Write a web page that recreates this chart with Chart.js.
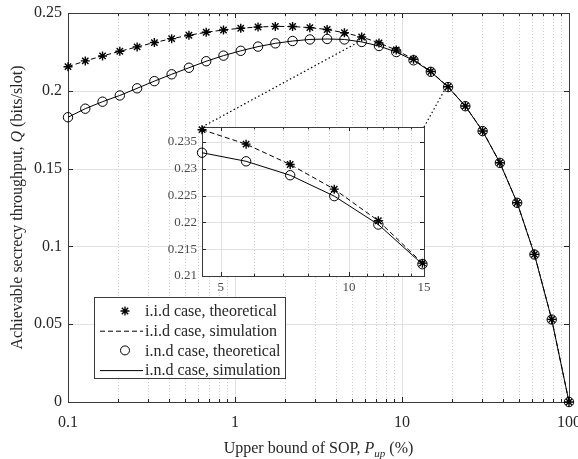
<!DOCTYPE html>
<html>
<head>
<meta charset="utf-8">
<script src="https://cdn.jsdelivr.net/npm/chart.js@4.4.1/dist/chart.umd.min.js"></script>
<style>
  body { margin: 0; background: #fff; }
  #wrap { position: relative; width: 578px; height: 459px; }
  #mainChart { position: absolute; left: 0; top: 0; }
  #insetChart { position: absolute; left: 150px; top: 115px; }
</style>
</head>
<body>
<div id="wrap">
  <canvas id="mainChart" width="578" height="459"></canvas>
  <canvas id="insetChart" width="285" height="185"></canvas>
</div>
<script>
// Upper bound of SOP (%), log spaced
const sopPct = [0.1, 0.1269, 0.1610, 0.2043, 0.2593, 0.3290, 0.4175, 0.5298, 0.6723, 0.8531,
  1.0826, 1.3738, 1.7433, 2.2122, 2.8072, 3.5622, 4.5204, 5.7362, 7.2790, 9.2367,
  11.721, 14.874, 18.874, 23.950, 30.392, 38.566, 48.939, 62.102, 78.805, 100];

// secrecy throughput (bits/slot)
const iidTheory = [0.2155, 0.2192, 0.2224, 0.2254, 0.2282, 0.2310, 0.2335, 0.2357, 0.2376, 0.2391,
  0.2402, 0.2410, 0.2414, 0.2413, 0.2406, 0.2394, 0.2373, 0.2346, 0.2308, 0.2262,
  0.2203, 0.2124, 0.2026, 0.1902, 0.1742, 0.1538, 0.1281, 0.0949, 0.0531, 0];
const iidSim = iidTheory;
const indTheory = [0.1830, 0.1885, 0.1930, 0.1970, 0.2016, 0.2062, 0.2106, 0.2148, 0.2190, 0.2226,
  0.2257, 0.2284, 0.2305, 0.2320, 0.2330, 0.2333, 0.2330, 0.2314, 0.2288, 0.2249,
  0.2196, 0.2122, 0.2024, 0.1901, 0.1741, 0.1537, 0.1280, 0.0948, 0.0530, 0];
const indSim = indTheory;

// axis ticks
const xTicks = [0.1, 1, 10, 100];
const xMinor = [0.2, 0.3, 0.4, 0.5, 0.6, 0.7, 0.8, 0.9, 2, 3, 4, 5, 6, 7, 8, 9, 20, 30, 40, 50, 60, 70, 80, 90];
const yTicks = [0, 0.05, 0.1, 0.15, 0.2, 0.25];

// inset (zoomed region)
const insetRange = [16, 22];   // slice of the points shown in the inset
const insetXTicks = [5, 10, 15];
const insetXMinor = [6, 7, 8, 9, 11, 12, 13, 14];
const insetYTicks = [0.21, 0.215, 0.22, 0.225, 0.23, 0.235];
const insetLimits = { xMin: 4.5204, xMax: 15, yMin: 0.21, yMax: 0.2378 };
// where the dotted zoom lines meet the main curve
const zoomLinkEnds = [[5.40, 0.2309], [18.1, 0.2010]];

const FONT = '"Liberation Serif", "Times New Roman", serif';
const AXIS = '#262626';
Chart.defaults.font.family = FONT;
Chart.defaults.color = AXIS;

// matlab style box, grid and inward ticks
const matlabAxes = {
    id: 'matlabAxes',
    beforeDatasetsDraw(chart, args, opts) {
        const { ctx, chartArea: a, scales: { x, y } } = chart;
        const line = (x1, y1, x2, y2) => { ctx.beginPath(); ctx.moveTo(x1, y1); ctx.lineTo(x2, y2); ctx.stroke(); };
        const px = v => Math.round(x.getPixelForValue(v)) + 0.5;
        const py = v => Math.round(y.getPixelForValue(v)) + 0.5;
        ctx.save();
        ctx.fillStyle = '#fff';
        ctx.fillRect(a.left, a.top, a.right - a.left, a.bottom - a.top);
        ctx.lineWidth = 1;

        // minor grid
        ctx.strokeStyle = '#cfcfcf';
        ctx.setLineDash([1, 2]);
        opts.xMinor.forEach(v => line(px(v), a.top, px(v), a.bottom));

        // major grid
        ctx.setLineDash([]);
        ctx.strokeStyle = '#e2e2e2';
        opts.xMajor.forEach(v => line(px(v), a.top, px(v), a.bottom));
        opts.yMajor.forEach(v => line(a.left, py(v), a.right, py(v)));

        // tick marks
        ctx.strokeStyle = AXIS;
        const big = opts.tickLen, small = opts.tickLen * 0.6;
        opts.xMajor.forEach(v => {
            line(px(v), a.bottom, px(v), a.bottom - big);
            line(px(v), a.top, px(v), a.top + big);
        });
        opts.xMinor.forEach(v => {
            line(px(v), a.bottom, px(v), a.bottom - small);
            line(px(v), a.top, px(v), a.top + small);
        });
        opts.yMajor.forEach(v => {
            line(a.left, py(v), a.left + big, py(v));
            line(a.right, py(v), a.right - big, py(v));
        });

        // box
        ctx.strokeStyle = '#3a3a3a';
        ctx.strokeRect(Math.round(a.left) + 0.5, Math.round(a.top) + 0.5,
            Math.round(a.right - a.left), Math.round(a.bottom - a.top));
        ctx.restore();
    }
};

// draws a string made of runs with different font styles
function drawRuns(ctx, runs, cx, baseY) {
    let total = 0;
    runs.forEach(r => { ctx.font = r.font; r.w = ctx.measureText(r.t).width; total += r.w; });
    let xx = cx - total / 2;
    ctx.textAlign = 'left';
    ctx.textBaseline = 'alphabetic';
    runs.forEach(r => {
        ctx.font = r.font;
        ctx.fillText(r.t, xx, baseY + (r.dy || 0));
        xx += r.w;
    });
}

let insetChart = null;

const mainDecor = {
    id: 'mainDecor',
    afterDraw(chart) {
        const { ctx, chartArea: a, scales: { x, y } } = chart;
        ctx.save();
        ctx.fillStyle = AXIS;

        // axis titles
        drawRuns(ctx, [
            { t: 'Upper bound of SOP, ', font: '16px ' + FONT },
            { t: 'P', font: 'italic 16px ' + FONT },
            { t: 'up', font: 'italic 11px ' + FONT, dy: 4 },
            { t: ' (%)', font: '16px ' + FONT }
        ], (a.left + a.right) / 2, 453);

        ctx.save();
        ctx.translate(22, (a.top + a.bottom) / 2);
        ctx.rotate(-Math.PI / 2);
        drawRuns(ctx, [
            { t: 'Achievable secrecy throughput, ', font: '16px ' + FONT },
            { t: 'Q', font: 'italic 16px ' + FONT },
            { t: ' (bits/slot)', font: '16px ' + FONT }
        ], 0, 0);
        ctx.restore();

        // legend
        const lx = a.left + 26, ly = a.top + 284, lw = 191, lh = 81;
        ctx.fillStyle = '#fff';
        ctx.fillRect(lx, ly, lw, lh);
        ctx.strokeStyle = '#3a3a3a';
        ctx.lineWidth = 1;
        ctx.strokeRect(lx + 0.5, ly + 0.5, lw, lh);
        const order = [0, 1, 2, 3];
        order.forEach((di, i) => {
            const ds = chart.data.datasets[di];
            const ry = ly + 14 + i * 19.7;
            const sx = lx + 31;
            ctx.strokeStyle = '#000';
            ctx.lineWidth = 1;
            if (ds.showLine === false) {
                const r = 4.5;
                ctx.lineWidth = ds.pointBorderWidth;
                ctx.beginPath();
                if (ds.pointStyle === 'circle') {
                    ctx.arc(sx, ry, r, 0, Math.PI * 2);
                } else {
                    const d = r * Math.SQRT1_2;
                    ctx.moveTo(sx - r, ry); ctx.lineTo(sx + r, ry);
                    ctx.moveTo(sx, ry - r); ctx.lineTo(sx, ry + r);
                    ctx.moveTo(sx - d, ry - d); ctx.lineTo(sx + d, ry + d);
                    ctx.moveTo(sx - d, ry + d); ctx.lineTo(sx + d, ry - d);
                }
                ctx.stroke();
            } else {
                ctx.setLineDash(ds.borderDash || []);
                ctx.beginPath();
                ctx.moveTo(lx + 6, ry + 0.5);
                ctx.lineTo(lx + 49, ry + 0.5);
                ctx.stroke();
                ctx.setLineDash([]);
            }
            ctx.fillStyle = AXIS;
            ctx.font = '16px ' + FONT;
            ctx.textAlign = 'left';
            ctx.textBaseline = 'middle';
            ctx.fillText(ds.label, lx + 51, ry + 1);
        });

        // dotted lines from inset corners to the curve
        if (insetChart) {
            const ia = insetChart.chartArea;
            const ox = insetChart.canvas.offsetLeft, oy = insetChart.canvas.offsetTop;
            const corners = [[ox + ia.left, oy + ia.top], [ox + ia.right, oy + ia.top]];
            ctx.strokeStyle = '#000';
            ctx.lineWidth = 1.2;
            ctx.setLineDash([1.5, 2.5]);
            corners.forEach((c, i) => {
                ctx.beginPath();
                ctx.moveTo(c[0], c[1]);
                ctx.lineTo(x.getPixelForValue(zoomLinkEnds[i][0]), y.getPixelForValue(zoomLinkEnds[i][1]));
                ctx.stroke();
            });
        }
        ctx.restore();
    }
};

function makeDatasets(xs, iidT, iidS, indT, indS) {
    const pts = (arr) => arr.map((v, i) => ({ x: xs[i], y: v }));
    return [
        { label: 'i.i.d case, theoretical', data: pts(iidT), showLine: false, pointStyle: 'star',
          pointRadius: 4.5, pointBorderWidth: 1.4, borderColor: '#000', pointBorderColor: '#000', backgroundColor: 'transparent', order: 1, clip: false },
        { label: 'i.i.d case, simulation', data: pts(iidS), borderColor: '#000', borderWidth: 1, borderDash: [5, 3],
          pointRadius: 0, tension: 0, order: 2, clip: false },
        { label: 'i.n.d case, theoretical', data: pts(indT), showLine: false, pointStyle: 'circle',
          pointRadius: 4.7, pointBorderWidth: 1, borderColor: '#000', pointBorderColor: '#000', pointBackgroundColor: 'transparent', backgroundColor: 'transparent', order: 1, clip: false },
        { label: 'i.n.d case, simulation', data: pts(indS), borderColor: '#000', borderWidth: 1,
          pointRadius: 0, tension: 0, order: 2, clip: false }
    ];
}

const mainChart = new Chart(document.getElementById('mainChart'), {
    type: 'line',
    data: { datasets: makeDatasets(sopPct, iidTheory, iidSim, indTheory, indSim) },
    plugins: [matlabAxes, mainDecor],
    options: {
        responsive: false,
        animation: false,
        events: [],
        layout: { padding: { top: 13, right: 9, left: 0, bottom: 0 } },
        plugins: {
            legend: { display: false },
            tooltip: { enabled: false },
            matlabAxes: { xMajor: xTicks, xMinor: xMinor, yMajor: yTicks, tickLen: 5 }
        },
        scales: {
            x: {
                type: 'logarithmic', min: 0.1, max: 100,
                grid: { display: false, drawTicks: false },
                border: { display: false },
                afterBuildTicks: s => { s.ticks = xTicks.map(v => ({ value: v })); },
                afterFit: s => { s.height = 57; s.paddingLeft = 0; s.paddingRight = 0; },
                ticks: { autoSkip: false, maxRotation: 0, padding: 11, font: { size: 16 }, color: AXIS,
                    callback: v => String(v) }
            },
            y: {
                type: 'linear', min: 0, max: 0.25,
                grid: { display: false, drawTicks: false },
                border: { display: false },
                afterBuildTicks: s => { s.ticks = yTicks.map(v => ({ value: v })); },
                afterFit: s => { s.width = 68; s.paddingTop = 0; s.paddingBottom = 0; },
                ticks: { padding: 6, font: { size: 16 }, color: AXIS,
                    callback: v => String(+v.toFixed(2)) }
            }
        }
    }
});

const insetX = sopPct.slice(insetRange[0], insetRange[1]);
insetChart = new Chart(document.getElementById('insetChart'), {
    type: 'line',
    data: { datasets: makeDatasets(insetX,
        iidTheory.slice(insetRange[0], insetRange[1]), iidSim.slice(insetRange[0], insetRange[1]),
        indTheory.slice(insetRange[0], insetRange[1]), indSim.slice(insetRange[0], insetRange[1])) },
    plugins: [matlabAxes],
    options: {
        responsive: false,
        animation: false,
        events: [],
        layout: { padding: { top: 12, right: 11, left: 0, bottom: 0 } },
        plugins: {
            legend: { display: false },
            tooltip: { enabled: false },
            matlabAxes: { xMajor: insetXTicks, xMinor: insetXMinor, yMajor: insetYTicks, tickLen: 4 }
        },
        scales: {
            x: {
                type: 'logarithmic', min: insetLimits.xMin, max: insetLimits.xMax,
                grid: { display: false, drawTicks: false },
                border: { display: false },
                afterBuildTicks: s => { s.ticks = insetXTicks.map(v => ({ value: v })); },
                afterFit: s => { s.height = 24; s.paddingLeft = 0; s.paddingRight = 0; },
                ticks: { autoSkip: false, maxRotation: 0, padding: 4, font: { size: 13 }, color: '#4a4a4a',
                    callback: v => String(v) }
            },
            y: {
                type: 'linear', min: insetLimits.yMin, max: insetLimits.yMax,
                grid: { display: false, drawTicks: false },
                border: { display: false },
                afterBuildTicks: s => { s.ticks = insetYTicks.map(v => ({ value: v })); },
                afterFit: s => { s.width = 52; s.paddingTop = 0; s.paddingBottom = 0; },
                ticks: { padding: 5, font: { size: 13 }, color: '#4a4a4a',
                    callback: v => String(+v.toFixed(3)) }
            }
        }
    }
});

// redraw so the zoom lines can find the inset box
mainChart.draw();
</script>
</body>
</html>
